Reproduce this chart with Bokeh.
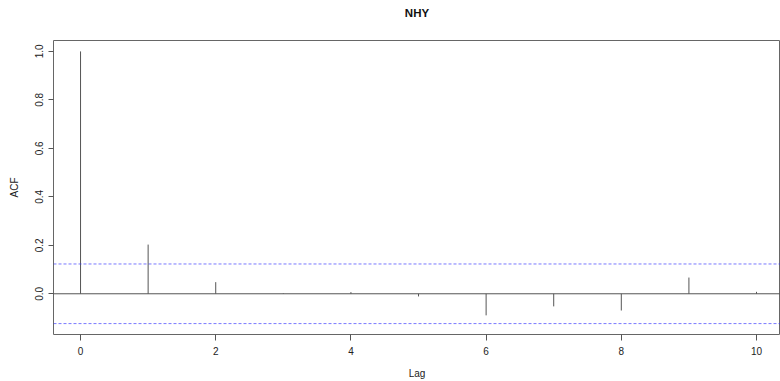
from bokeh.plotting import figure
from bokeh.models import Span, FixedTicker, CustomJSTickFormatter, Title
from bokeh.embed import file_html
from bokeh.resources import INLINE

# Data
lags = [0, 1, 2, 3, 4, 5, 6, 7, 8, 9, 10]
acf = [1.0, 0.203, 0.048, 0.002, 0.007, -0.011, -0.089, -0.052, -0.069, 0.067, 0.008]
ci = 0.123
x_ticks = [0, 2, 4, 6, 8, 10]
y_ticks = [0.0, 0.2, 0.4, 0.6, 0.8, 1.0]
title_text = "NHY"

FONT = "Liberation Sans"

p = figure(width=780, height=381, output_backend="svg", toolbar_location=None,
           x_range=(-0.4, 10.355), y_range=(-0.168, 1.045), title=None,
           min_border_left=53, min_border_right=0, min_border_top=40, min_border_bottom=47)

# spacer (closest to the frame), then the real title further up
p.add_layout(Title(text=" ", text_font=FONT, text_font_size="18px", standoff=0), "above")
p.add_layout(Title(text=title_text, align="center", text_font=FONT, text_font_size="11.5px",
                   text_font_style="bold", text_color="#111111", standoff=0), "above")

p.background_fill_color = "white"
p.border_fill_color = "white"
p.outline_line_color = "#666666"
p.outline_line_width = 1
p.xgrid.visible = False
p.ygrid.visible = False

for ax in (p.xaxis[0], p.yaxis[0]):
    ax.axis_line_color = None
    ax.major_tick_line_color = "#555555"
    ax.minor_tick_line_color = None
    ax.major_tick_in = 0
    ax.major_label_text_font = FONT
    ax.major_label_text_font_size = "10px"
    ax.major_label_text_color = "#222222"
    ax.axis_label_text_font = FONT
    ax.axis_label_text_font_size = "10px"
    ax.axis_label_text_font_style = "normal"
    ax.axis_label_text_color = "#222222"

p.xaxis.ticker = FixedTicker(ticks=x_ticks)
p.xaxis.major_tick_out = 6
p.xaxis.major_label_standoff = 6
p.xaxis.axis_label = "Lag"
p.xaxis.axis_label_standoff = 10

p.yaxis.ticker = FixedTicker(ticks=y_ticks)
p.yaxis.formatter = CustomJSTickFormatter(code="return tick.toFixed(1);")
p.yaxis.major_label_orientation = "vertical"
p.yaxis.major_tick_out = 5
p.yaxis.major_label_standoff = 5
p.yaxis.axis_label = "ACF"
p.yaxis.axis_label_standoff = 13

# confidence bounds (each its own span), then the zero line
for c in (ci, -ci):
    p.add_layout(Span(location=c, dimension="width", line_color="#3333ff",
                      line_alpha=0.65, line_width=1, line_dash="3 2"))
p.add_layout(Span(location=0, dimension="width", line_color="#555555", line_width=1))

p.segment(x0=lags, y0=[0] * len(lags), x1=lags, y1=acf, line_color="#555555", line_width=1)

open("out.html", "w").write(file_html(p, INLINE))
